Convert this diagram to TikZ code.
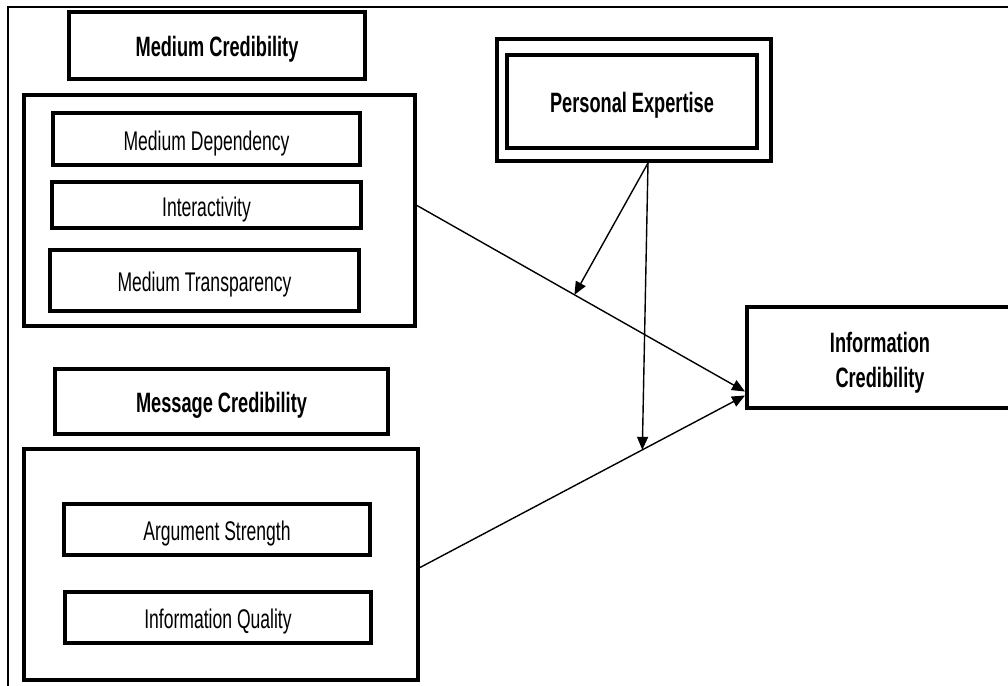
\documentclass[tikz,border=0pt]{standalone}
\usepackage{fontspec}
\setmainfont{Liberation Sans}[FakeStretch=0.65]
\usetikzlibrary{arrows.meta}
\tikzset{
  thickbox/.style={draw, line width=4pt, rectangle, inner sep=0pt, align=center},
  titlebox/.style={thickbox, font=\fontsize{28}{35}\selectfont\bfseries, text height=21.5pt, text depth=0pt},
  itembox/.style={thickbox, font=\fontsize{27}{33}\selectfont, text height=22pt, text depth=0pt},
  groupbox/.style={thickbox},
  conn/.style={line width=1.4pt, -{Triangle[length=13pt,width=11pt]}},
}
\begin{document}
\begin{tikzpicture}[x=1pt,y=-1pt]
\useasboundingbox (0,0) rectangle (1008,685);
\begin{scope}
\clip (0,0) rectangle (1008,685);
% outer frame
\draw[line width=1.6pt] (8,700) -- (8,7) -- (1020,7);
% medium credibility
\node[titlebox, minimum width=296pt, minimum height=67pt] (mc) at (217,45.5) {Medium Credibility};
\node[groupbox, minimum width=391pt, minimum height=231pt] (mo) at (219.5,210.5) {};
\node[itembox, minimum width=307pt, minimum height=52pt] (md) at (206.5,139) {Medium Dependency};
\node[itembox, minimum width=309pt, minimum height=46pt] (int) at (206.5,205) {Interactivity};
\node[itembox, minimum width=309pt, minimum height=61pt] (mt) at (204.5,280.5) {Medium Transparency};
% message credibility
\node[titlebox, minimum width=333pt, minimum height=65pt] (msc) at (221.5,401.5) {Message Credibility};
\node[groupbox, minimum width=394pt, minimum height=231pt] (mso) at (221,564.5) {};
\node[itembox, minimum width=306pt, minimum height=51pt] (as) at (217,529.5) {Argument Strength};
\node[itembox, minimum width=306pt, minimum height=51pt] (iq) at (218,617.5) {Information Quality};
% personal expertise
\node[thickbox, minimum width=274pt, minimum height=122pt] (peo) at (634,100) {};
\node[titlebox, minimum width=250pt, minimum height=93pt] (pe) at (632,101.5) {Personal Expertise};
% information credibility
\node[titlebox, text height={}, text depth={}, minimum width=266pt, minimum height=101pt] (ic) at (880,357.5) {\rule{0pt}{30pt}Information\\Credibility};
% connectors
\coordinate (t1) at ([yshift=-34pt]ic.west);
\coordinate (t2) at ([yshift=-38pt]ic.west);
\coordinate (s1) at ([yshift=5pt]mo.east);
\coordinate (s2) at ([yshift=-3pt]mso.east);
\coordinate (p0) at ([xshift=14pt]peo.south);
\draw[conn] (s1) -- (t1) coordinate[pos=0.48] (m1);
\draw[conn] (s2) -- (t2) coordinate[pos=0.684] (m2);
\draw[conn] (p0) -- (m1);
\draw[conn] (p0) -- (m2);
\end{scope}
\end{tikzpicture}
\end{document}
